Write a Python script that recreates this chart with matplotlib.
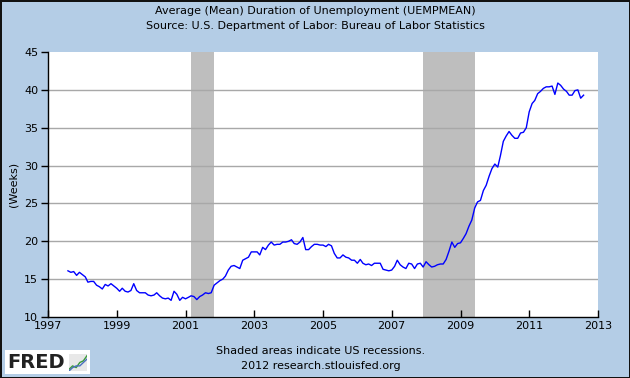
import matplotlib
matplotlib.use('Agg')
import matplotlib.pyplot as plt
import matplotlib.dates as mdates
import pandas as pd

# Average (Mean) Duration of Unemployment, weeks, monthly Aug 1997 - Aug 2012
v1997 = [16.1, 15.9, 16.0, 15.5, 15.9]
v1998 = [15.6, 15.3, 14.6, 14.7, 14.7, 14.2, 14.0, 13.7, 14.3, 14.1, 14.4, 14.1]
v1999 = [13.8, 13.4, 13.8, 13.4, 13.3, 13.5, 14.4, 13.5, 13.2, 13.2, 13.2, 12.9]
v2000 = [12.8, 12.9, 13.2, 12.8, 12.5, 12.4, 12.5, 12.2, 13.4, 13.0, 12.2, 12.6]
v2001 = [12.4, 12.6, 12.8, 12.7, 12.3, 12.7, 12.9, 13.2, 13.1, 13.2, 14.2, 14.5]
v2002 = [14.8, 15.0, 15.4, 16.2, 16.7, 16.8, 16.6, 16.4, 17.5, 17.7, 17.9, 18.6]
v2003 = [18.6, 18.6, 18.2, 19.2, 18.9, 19.5, 19.9, 19.5, 19.6, 19.6, 19.9, 19.9]
v2004 = [20.0, 20.2, 19.7, 19.6, 19.9, 20.5, 18.9, 18.9, 19.3, 19.6, 19.6, 19.5]
v2005 = [19.5, 19.3, 19.6, 19.4, 18.4, 17.8, 17.8, 18.2, 17.9, 17.8, 17.5, 17.5]
v2006 = [17.1, 17.6, 17.1, 16.9, 17.0, 16.8, 17.1, 17.1, 17.1, 16.3, 16.2, 16.1]
v2007 = [16.2, 16.7, 17.5, 16.9, 16.6, 16.4, 17.1, 17.0, 16.4, 17.0, 17.1, 16.6]
v2008 = [17.3, 16.9, 16.6, 16.7, 16.9, 17.0, 17.0, 17.6, 18.7, 19.9, 19.2, 19.7]
v2009 = [19.8, 20.4, 21.0, 22.0, 22.8, 24.4, 25.2, 25.4, 26.7, 27.4, 28.6, 29.6]
v2010 = [30.2, 29.8, 31.3, 33.2, 33.9, 34.5, 34.0, 33.6, 33.6, 34.3, 34.4, 35.0]
v2011 = [37.1, 38.2, 38.6, 39.5, 39.8, 40.2, 40.4, 40.4, 40.5, 39.4, 40.9, 40.6]
v2012 = [40.1, 39.8, 39.3, 39.3, 39.9, 40.0, 38.9, 39.3]

values = (v1997 + v1998 + v1999 + v2000 + v2001 + v2002 + v2003 + v2004 +
          v2005 + v2006 + v2007 + v2008 + v2009 + v2010 + v2011 + v2012)
dates = pd.date_range('1997-08-01', periods=len(values), freq='MS')

recessions = [('2001-03-01', '2001-11-01'), ('2007-12-01', '2009-06-01')]
tick_years = ['1997', '1999', '2001', '2003', '2005', '2007', '2009', '2011', '2013']
y_ticks = [10, 15, 20, 25, 30, 35, 40, 45]

bg = '#B4CDE6'

fig = plt.figure(figsize=(6.3, 3.78), dpi=100)
fig.patch.set_facecolor(bg)
fig.patch.set_edgecolor('#111111')
fig.patch.set_linewidth(2)

ax = fig.add_axes([48 / 630, 1 - 317 / 378, 550 / 630, 265 / 378])
ax.set_facecolor('white')

for start, end in recessions:
    ax.axvspan(pd.Timestamp(start), pd.Timestamp(end), color='#BEBEBE', lw=0, zorder=1)

# horizontal grid, skipping the bottom axis and the top edge
for y in y_ticks[1:-1]:
    ax.axhline(y, color='#A8A8A8', lw=1, zorder=2)

ax.plot(dates, values, color='#0000FF', lw=1.0, zorder=3)

ax.set_xlim(pd.Timestamp('1997-01-01'), pd.Timestamp('2013-01-01'))
ax.set_ylim(10, 45)
ax.set_yticks(y_ticks)
ax.set_xticks([pd.Timestamp(y + '-01-01') for y in tick_years])
ax.xaxis.set_major_formatter(mdates.DateFormatter('%Y'))

for side in ['top', 'right']:
    ax.spines[side].set_visible(False)
for side in ['left', 'bottom']:
    ax.spines[side].set_color('black')
    ax.spines[side].set_linewidth(1)
    ax.spines[side].set_zorder(4)

ax.tick_params(axis='y', direction='out', length=5, width=1, labelsize=8, pad=2)
ax.tick_params(axis='x', direction='in', length=5, width=1, labelsize=8, pad=3)

ax.set_ylabel('(Weeks)', fontsize=8, labelpad=4)

fig.text(0.5, 1 - 11 / 378, 'Average (Mean) Duration of Unemployment (UEMPMEAN)',
         ha='center', va='center', fontsize=8)
fig.text(0.5, 1 - 26 / 378, 'Source: U.S. Department of Labor: Bureau of Labor Statistics',
         ha='center', va='center', fontsize=8)
fig.text(321 / 630, 1 - 351 / 378, 'Shaded areas indicate US recessions.',
         ha='center', va='center', fontsize=8)
fig.text(321 / 630, 1 - 366 / 378, '2012 research.stlouisfed.org',
         ha='center', va='center', fontsize=8)

# FRED logo box
logo = fig.add_axes([5 / 630, 1 - 374 / 378, 85 / 630, 24 / 378])
logo.set_facecolor('white')
logo.set_xticks([])
logo.set_yticks([])
for s in logo.spines.values():
    s.set_visible(False)
logo.set_xlim(0, 85)
logo.set_ylim(0, 24)
logo.text(2, 11, 'FRED', fontsize=14, fontweight='bold', color='#222222',
          ha='left', va='center')
icon = fig.add_axes([69 / 630, 1 - 371 / 378, 18 / 630, 17 / 378])
icon.set_facecolor('#E8E8E8')
icon.set_xticks([])
icon.set_yticks([])
for s in icon.spines.values():
    s.set_visible(False)
icon.plot([0, 2, 4, 6, 8, 10], [1, 3, 2, 5, 6, 9], color='#3A9A3A', lw=1)
icon.plot([0, 2, 4, 6, 8, 10], [0, 2, 3, 3, 5, 7], color='#4A6FC0', lw=1)
icon.set_xlim(0, 10)
icon.set_ylim(0, 10)

fig.savefig('out.png', dpi=100)
